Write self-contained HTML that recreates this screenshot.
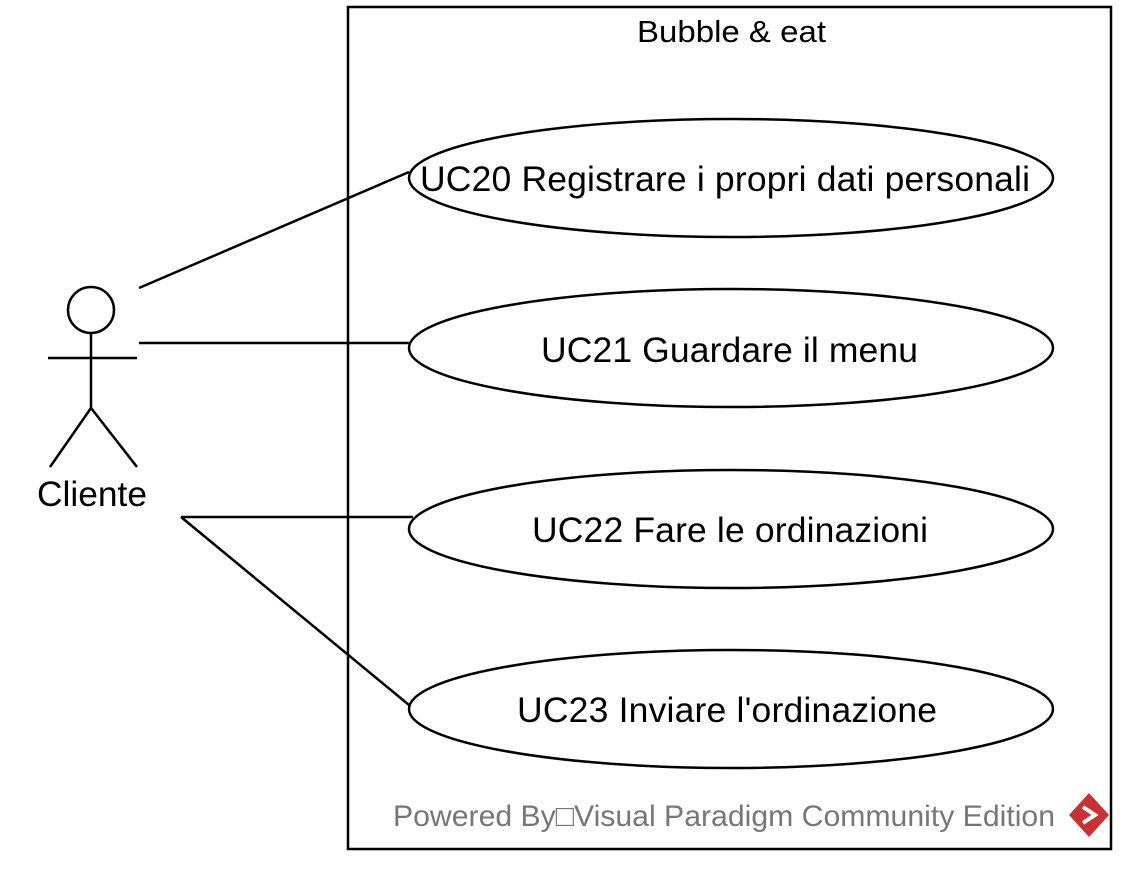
<!DOCTYPE html>
<html><head><style>body{margin:0;background:#fff}</style></head><body>
<svg width="1125" height="864" xmlns="http://www.w3.org/2000/svg" font-family="Liberation Sans, Arial, sans-serif">
<rect x="0" y="0" width="1125" height="864" fill="#fff"/>
<rect x="348" y="7" width="763" height="842" fill="none" stroke="#000" stroke-width="2.5"/>
<text x="637" y="42" font-size="31" textLength="189" lengthAdjust="spacingAndGlyphs">Bubble &amp; eat</text>
<g fill="#fff" stroke="#000" stroke-width="2.5">
<ellipse cx="731" cy="178" rx="322" ry="59"/>
<ellipse cx="731" cy="348" rx="322" ry="59"/>
<ellipse cx="731" cy="529" rx="322" ry="59"/>
<ellipse cx="731" cy="709" rx="322" ry="59"/>
</g>
<g font-size="35.5" lengthAdjust="spacingAndGlyphs">
<text x="420" y="191" textLength="610">UC20 Registrare i propri dati personali</text>
<text x="541" y="362" textLength="377">UC21 Guardare il menu</text>
<text x="532" y="542" textLength="396">UC22 Fare le ordinazioni</text>
<text x="517" y="722" textLength="420">UC23 Inviare l'ordinazione</text>
</g>
<g stroke="#000" stroke-width="2.5" fill="none">
<circle cx="91" cy="310" r="23"/>
<line x1="91" y1="333" x2="91" y2="408"/>
<line x1="48" y1="358" x2="137" y2="358"/>
<polyline points="50,467 91,408 137,467"/>
<line x1="139" y1="288" x2="409" y2="172"/>
<line x1="139" y1="343" x2="409" y2="343"/>
<line x1="181" y1="517" x2="413" y2="517"/>
<line x1="181" y1="517" x2="409" y2="705"/>
</g>
<text x="37" y="506" font-size="35" textLength="110" lengthAdjust="spacingAndGlyphs">Cliente</text>
<text x="393" y="826" font-size="30" fill="#777" textLength="662" lengthAdjust="spacingAndGlyphs">Powered By□Visual Paradigm Community Edition</text>
<g transform="translate(1089,815)">
<polygon points="0,-22 20,0 0,22 -20,0" fill="#c83232"/>
<path d="M-6,-8 L6,0 L-6,8" stroke="#fff" stroke-width="4" fill="none"/>
</g>
</svg>
</body></html>
